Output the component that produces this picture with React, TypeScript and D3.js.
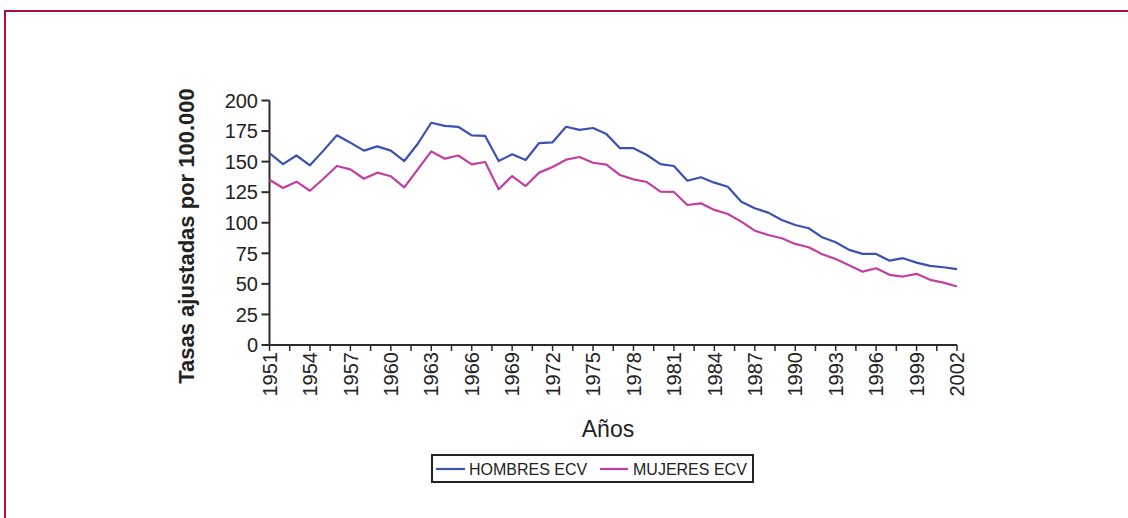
import React from "react";
import * as d3 from "d3";

const years: number[] = d3.range(1951, 2003);
const hombres: number[] = [
  157, 148, 155, 147, 159, 171.5, 165.5, 159, 162.5, 159, 150.5, 164.6, 181.8,
  179.3, 178.5, 171.5, 171, 150.5, 156, 151.3, 165.2, 165.8, 178.5, 176, 177.5,
  172.5, 161, 161, 155.4, 148, 146.4, 134.4, 137.2, 132.8, 129.5, 117.2, 111.8,
  108.3, 102.3, 98.2, 95.5, 88.1, 84, 77.8, 74.5, 74.5, 69, 71, 67.4, 64.7, 63.6, 62,
];
const mujeres: number[] = [
  135.2, 128.4, 133.6, 126.2, 136, 146.4, 143.7, 136, 141, 138, 129, 143.7, 158.4,
  152.4, 155, 147.8, 149.7, 127.4, 138.2, 130, 141, 145.6, 151.6, 153.8, 149.1,
  147.5, 139, 135.5, 133.3, 125.4, 125.2, 114.5, 115.9, 110.5, 107.2, 100.9, 93.5,
  90, 87.3, 82.7, 80, 74.3, 70.4, 65.3, 60, 62.8, 57.4, 56, 58.2, 53.3, 51, 47.8,
];
const yTicks: number[] = [0, 25, 50, 75, 100, 125, 150, 175, 200];
const xLabelYears: number[] = d3.range(1951, 2003, 3);
const xTickYears: number[] = d3.range(1951, 2002.01, 1.5);
const seriesNames: string[] = ["HOMBRES ECV", "MUJERES ECV"];
const colors: string[] = ["#3b50b2", "#c23fa2"];

export default function App() {
  const x = d3.scaleLinear().domain([1951, 2002]).range([269.5, 957]);
  const y = d3.scaleLinear().domain([0, 200]).range([345, 100.5]);
  const line = d3
    .line<number>()
    .x((_, i) => x(years[i]))
    .y((d) => y(d));
  const font = "'Liberation Sans', Arial, Helvetica, sans-serif";
  const axisColor = "#2b2b2b";
  const series = [hombres, mujeres];

  return (
    <svg
      width={1128}
      height={518}
      style={{ position: "absolute", left: 0, top: 0, background: "#fff" }}
      fontFamily={font}
    >
      <rect x={0} y={0} width={1128} height={518} fill="#fff" />
      <path d="M5,518 L5,11 L1128,11" fill="none" stroke="#a8104c" strokeWidth={2} />

      {/* y axis */}
      <line x1={x(1951)} x2={x(1951)} y1={y(200)} y2={y(0)} stroke={axisColor} strokeWidth={2} />
      {yTicks.map((t) => (
        <g key={"yt" + t}>
          <line x1={x(1951) - 8} x2={x(1951)} y1={y(t)} y2={y(t)} stroke={axisColor} strokeWidth={2} />
          <text
            x={258}
            y={y(t)}
            dy="0.36em"
            textAnchor="end"
            fontSize={20}
            fill="#222"
          >
            {t}
          </text>
        </g>
      ))}

      {/* x axis */}
      <line x1={x(1951)} x2={x(2002)} y1={y(0)} y2={y(0)} stroke={axisColor} strokeWidth={2} />
      {xTickYears.map((t) => (
        <line key={"xt" + t} x1={x(t)} x2={x(t)} y1={y(0)} y2={y(0) + 6} stroke={axisColor} strokeWidth={1.5} />
      ))}
      {xLabelYears.map((t) => (
        <text
          key={"xl" + t}
          transform={`translate(${x(t)},352) rotate(-90)`}
          dy="0.36em"
          textAnchor="end"
          fontSize={20}
          fill="#222"
        >
          {t}
        </text>
      ))}

      {/* lines */}
      {series.map((s, i) => (
        <path key={"s" + i} d={line(s) || ""} fill="none" stroke={colors[i]} strokeWidth={2.2} strokeLinejoin="round" />
      ))}

      {/* axis titles */}
      <text
        transform="translate(186,236) rotate(-90)"
        dy="0.36em"
        textAnchor="middle"
        fontSize={22}
        fontWeight="bold"
        fill="#222"
      >
        Tasas ajustadas por 100.000
      </text>
      <text x={608} y={437} textAnchor="middle" fontSize={23} fill="#222">
        Años
      </text>

      {/* legend */}
      <rect x={432} y={455} width={321} height={27} fill="#fff" stroke="#222" strokeWidth={2} />
      <line x1={436} x2={465} y1={469} y2={469} stroke={colors[0]} strokeWidth={2.2} />
      <text x={469} y={475} fontSize={16} fill="#222">
        {seriesNames[0]}
      </text>
      <line x1={600} x2={628} y1={469} y2={469} stroke={colors[1]} strokeWidth={2.2} />
      <text x={633} y={475} fontSize={16} fill="#222">
        {seriesNames[1]}
      </text>
    </svg>
  );
}
